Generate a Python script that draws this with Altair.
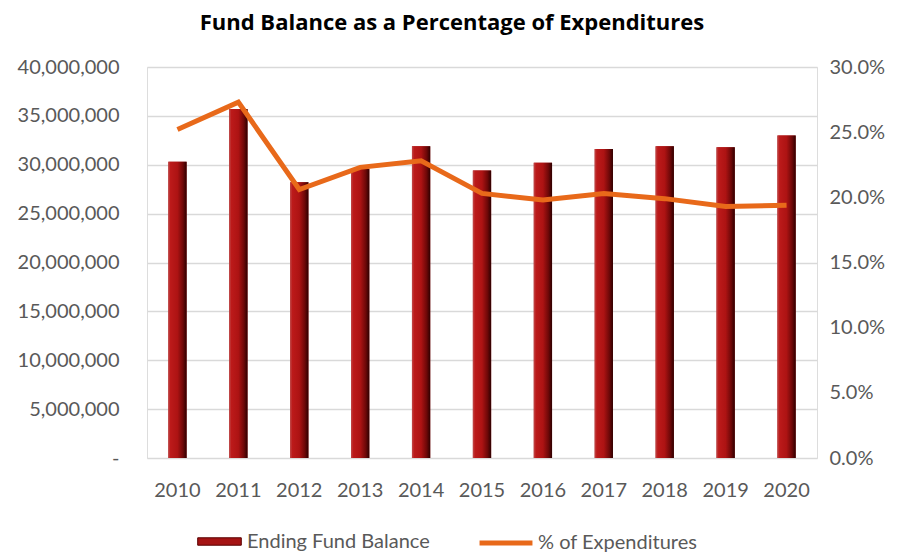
import altair as alt
import pandas as pd

years = ["2010", "2011", "2012", "2013", "2014", "2015", "2016", "2017", "2018", "2019", "2020"]
fund_balance = [30300000, 35700000, 28200000, 29600000, 31900000, 29400000,
                30200000, 31600000, 31900000, 31800000, 33000000]
pct_expend = [0.252, 0.273, 0.206, 0.223, 0.228, 0.203, 0.198, 0.203, 0.199, 0.193, 0.194]
left_ticks = [0, 5000000, 10000000, 15000000, 20000000, 25000000, 30000000, 35000000, 40000000]
right_ticks = [0, 0.05, 0.10, 0.15, 0.20, 0.25, 0.30]

FONT = "Lato"
GREY = "#595959"
LSIZE = 20

df = pd.DataFrame({"year": years, "balance": fund_balance, "pct": pct_expend,
                   "s1": "Ending Fund Balance", "s2": "% of Expenditures"})

xenc = alt.X("year:N", title=None,
             scale=alt.Scale(paddingInner=0.7, paddingOuter=0.35),
             axis=alt.Axis(labelAngle=0, labelFontSize=LSIZE, labelColor=GREY, labelFont=FONT,
                           ticks=False, domain=False, labelPadding=22))

yleft = alt.Y("balance:Q", title=None,
              scale=alt.Scale(domain=[0, 40000000]),
              axis=alt.Axis(values=left_ticks, labelFontSize=LSIZE, labelColor=GREY, labelFont=FONT,
                            labelExpr="datum.value == 0 ? '-' : format(datum.value, ',')",
                            ticks=False, domain=False, labelPadding=28,
                            grid=True, gridColor="#d9d9d9", gridWidth=1.3))

gradient = alt.LinearGradient(
    gradient="linear", x1=0, x2=1, y1=0, y2=0,
    stops=[alt.GradientStop(color="#c04a4a", offset=0.0),
           alt.GradientStop(color="#bc1a1a", offset=0.12),
           alt.GradientStop(color="#ad1313", offset=0.5),
           alt.GradientStop(color="#6e0808", offset=0.8),
           alt.GradientStop(color="#2e0000", offset=1.0)])

bars_legend = alt.Chart(df).mark_bar().encode(
    x=xenc, y=yleft,
    fill=alt.Fill("s1:N", title=None,
                  scale=alt.Scale(domain=["Ending Fund Balance"], range=["#a51414"]),
                  legend=alt.Legend(orient="none", legendX=50, legendY=452,
                                    symbolType="M-1,-0.17L1,-0.17L1,0.17L-1,0.17Z",
                                    symbolSize=1900, symbolStrokeColor="#5a0000",
                                    symbolStrokeWidth=1, labelLimit=400,
                                    labelFontSize=LSIZE, labelColor=GREY, labelFont=FONT,
                                    labelOffset=5)),
)

bars_grad = alt.Chart(df).mark_bar(fill=gradient).encode(x=xenc, y=yleft)

line = alt.Chart(df).mark_line(strokeWidth=5, strokeCap="butt", strokeJoin="miter").encode(
    x=xenc,
    y=alt.Y("pct:Q", title=None, scale=alt.Scale(domain=[0, 0.30]),
            axis=alt.Axis(values=right_ticks, format=".1%", orient="right",
                          labelFontSize=LSIZE, labelColor=GREY, labelFont=FONT,
                          ticks=False, domain=False, grid=False, labelPadding=12)),
    stroke=alt.Stroke("s2:N", title=None,
                      scale=alt.Scale(domain=["% of Expenditures"], range=["#e8691a"]),
                      legend=alt.Legend(orient="none", legendX=330, legendY=447,
                                        symbolType="stroke", symbolSize=2800,
                                        symbolStrokeWidth=5, labelLimit=400,
                                        labelFontSize=LSIZE, labelColor=GREY, labelFont=FONT,
                                        labelOffset=3)),
)

left = alt.layer(bars_legend, bars_grad)
chart = alt.layer(left, line).resolve_scale(y="independent", fill="independent", stroke="independent").properties(
    width=670, height=391,
    title=alt.TitleParams("Fund Balance as a Percentage of Expenditures",
                          fontSize=22, fontWeight="bold", font="Open Sans", color="#000000",
                          anchor="middle", offset=22, dx=-30),
).configure_view(stroke=None).configure(padding={"left": 9, "top": 4, "right": 5, "bottom": 0})

chart.save("out.html", embed_options={"renderer": "svg", "actions": False})
